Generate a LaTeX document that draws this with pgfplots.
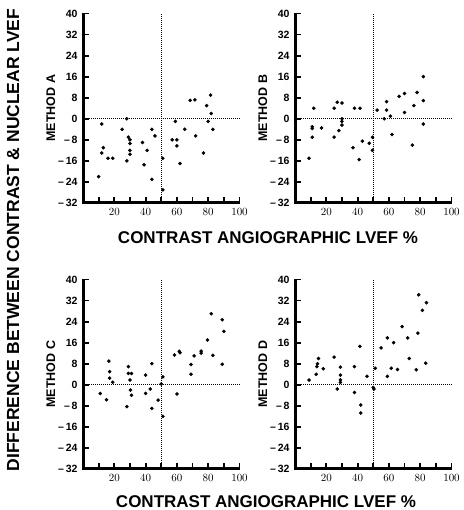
\documentclass[border=0pt]{standalone}
\usepackage{pgfplots}
\pgfplotsset{compat=1.18}
\usepackage{fontspec}
\setmainfont{Liberation Sans}

\pgfplotstableread{
x y
10 -22
12 -2
13 -11
12 -13
16 -15
19 -15
25 -4
28 0
28 -16
29 -7
30 -8
30 -9.4
30 -12
30 -13.5
38 -9
39 -17.5
41 -12
44 -23
44 -4
46 -6.5
51 -15
51 -27
57 -8
59 -1
60 -8
60 -10.3
62 -17
65 -4
68.5 7
71.5 7.2
72 -6.5
77 -13
79 5
80 -1
81.5 9
82 2
83 -4
}\dataA

\pgfplotstableread{
x y
9 -15
11 -3
11 -3.7
11 -7
12 4
17 -3.5
25 -7
25 4
27 6.3
28 -4.5
30 6
30 0
30 -1
30 -2.4
37 -11
38 4
41 -15.5
41.5 4
43 -8.5
47.5 -9.3
49.5 -7
49.5 -12
52.5 3.3
57 0
58.5 6.5
58.5 3.3
61 1
62 -6
66.5 8.5
70 9.6
70 2.4
75 -10
76 5
78 10
82 16
82 6.9
82 -2
}\dataB

\pgfplotstableread{
x y
11 -3.3
15 -5.7
16.5 9
17 5
17 2.5
19 1
28 -8.3
29 6.9
29 4.3
31 4.3
30 1.8
30.3 -2
31 -4
40 -3.3
40 3.7
43 -1.6
44 -9
44 8
48 -5.8
50 0.3
51 3
51 -12
58.5 11.3
60 -3.5
61.5 12.7
62 12.2
69 7.7
69 4
71 11
75.5 12.8
75.5 12
79.5 17
82 27
83 11.2
89 7.8
89 24.7
90 20.3
}\dataC

\pgfplotstableread{
x y
9 1.8
13.5 4
14 6.9
14.4 8
15 10
18 6.1
25 10.5
27 -1.6
29 6.7
29 3.7
29 1.9
29 0.9
38 6.9
38 -2.9
41.5 14.6
42 -7.7
42 -10.7
46 3.2
50 -1
50.4 -1.6
51.3 6.3
55 14
59 17.8
59 3.2
61.5 6.3
63 16
65.5 5.8
68.5 22.1
72 17.8
73 10
77.5 5.7
78.5 19.6
79 34.2
81.4 28.3
83.5 8.2
84 31.2
}\dataD

\newcommand{\drawframe}{%
  \pgfplotsinvokeforeach{10,20,30,40,50,60,70,80,90,100}{\fill[black] ([xshift=-0.9pt]axis cs:##1,-32) rectangle ([xshift=0.9pt,yshift=5.5pt]axis cs:##1,-32);}%
  \pgfplotsinvokeforeach{-24,-16,-8,0,8,16,24,32,40}{\fill[black] ([yshift=-0.9pt]axis cs:0,##1) rectangle ([xshift=5.5pt,yshift=0.9pt]axis cs:0,##1);}%
  \fill[black] ([xshift=-1.5pt,yshift=-1.5pt]rel axis cs:0,0) rectangle ([xshift=1.5pt,yshift=0.5pt]rel axis cs:0,1);%
  \fill[black] ([xshift=-1.5pt,yshift=-1.5pt]rel axis cs:0,0) rectangle ([xshift=0.5pt,yshift=1.5pt]rel axis cs:1,0);%
}

\pgfplotsset{
  panel/.style={
    scale only axis, width=156.5pt, height=189.5pt,
    xmin=0, xmax=100, ymin=-32, ymax=40,
    axis x line=bottom, axis y line=left,
    axis line style={-},
    xtick={20,40,60,80,100},
    ytick={-32,-24,-16,-8,0,8,16,24,32,40},
    yticklabels={{--\,32},{--\,24},{--\,16},{--\,8},0,8,16,24,32,40},
    major tick length=0pt,
    xticklabel style={font=\bfseries\fontsize{10.5}{12}\selectfont, yshift=-2pt},
    yticklabel style={font=\bfseries\fontsize{10.5}{12}\selectfont, xshift=-2pt},
    clip=false,
    every axis y label/.style={at={(axis description cs:-0.205,0.5)}, rotate=90, anchor=center,
      font=\bfseries\fontsize{12.5}{14}\selectfont},
  },
  pts/.style={only marks, mark=*, mark size=1.6pt, black},
  refl/.style={black, line width=1.4pt, dash pattern=on 1.1pt off 0.9pt},
}

\begin{document}
\begin{tikzpicture}
\path[use as bounding box] (0pt,0pt) rectangle (463pt,510pt);

\begin{axis}[panel, at={(83pt,307pt)}, anchor=south west, ylabel={METHOD A}]
\addplot[refl] coordinates {(0,0) (100,0)};
\addplot[refl] coordinates {(50,-32) (50,40)};
\addplot[pts] table[x=x,y=y] {\dataA};
\drawframe
\end{axis}

\begin{axis}[panel, at={(295pt,307pt)}, anchor=south west, ylabel={METHOD B}]
\addplot[refl] coordinates {(0,0) (100,0)};
\addplot[refl] coordinates {(50,-32) (50,40)};
\addplot[pts] table[x=x,y=y] {\dataB};
\drawframe
\end{axis}

\begin{axis}[panel, at={(83pt,41pt)}, anchor=south west, ylabel={METHOD C}]
\addplot[refl] coordinates {(0,0) (100,0)};
\addplot[refl] coordinates {(50,-32) (50,40)};
\addplot[pts] table[x=x,y=y] {\dataC};
\drawframe
\end{axis}

\begin{axis}[panel, at={(295pt,41pt)}, anchor=south west, ylabel={METHOD D}]
\addplot[refl] coordinates {(0,0) (100,0)};
\addplot[refl] coordinates {(50,-32) (50,40)};
\addplot[pts] table[x=x,y=y] {\dataD};
\drawframe
\end{axis}

\node[font=\bfseries\fontsize{17}{20}\selectfont, anchor=center] at (268pt,272pt) {CONTRAST ANGIOGRAPHIC LVEF \%};
\node[font=\bfseries\fontsize{17}{20}\selectfont, anchor=center] at (266pt,8pt) {CONTRAST ANGIOGRAPHIC LVEF \%};
\node[font=\bfseries\fontsize{17.5}{20}\selectfont, rotate=90, anchor=center] at (13pt,270pt) {DIFFERENCE BETWEEN CONTRAST \& NUCLEAR LVEF};
\end{tikzpicture}
\end{document}
